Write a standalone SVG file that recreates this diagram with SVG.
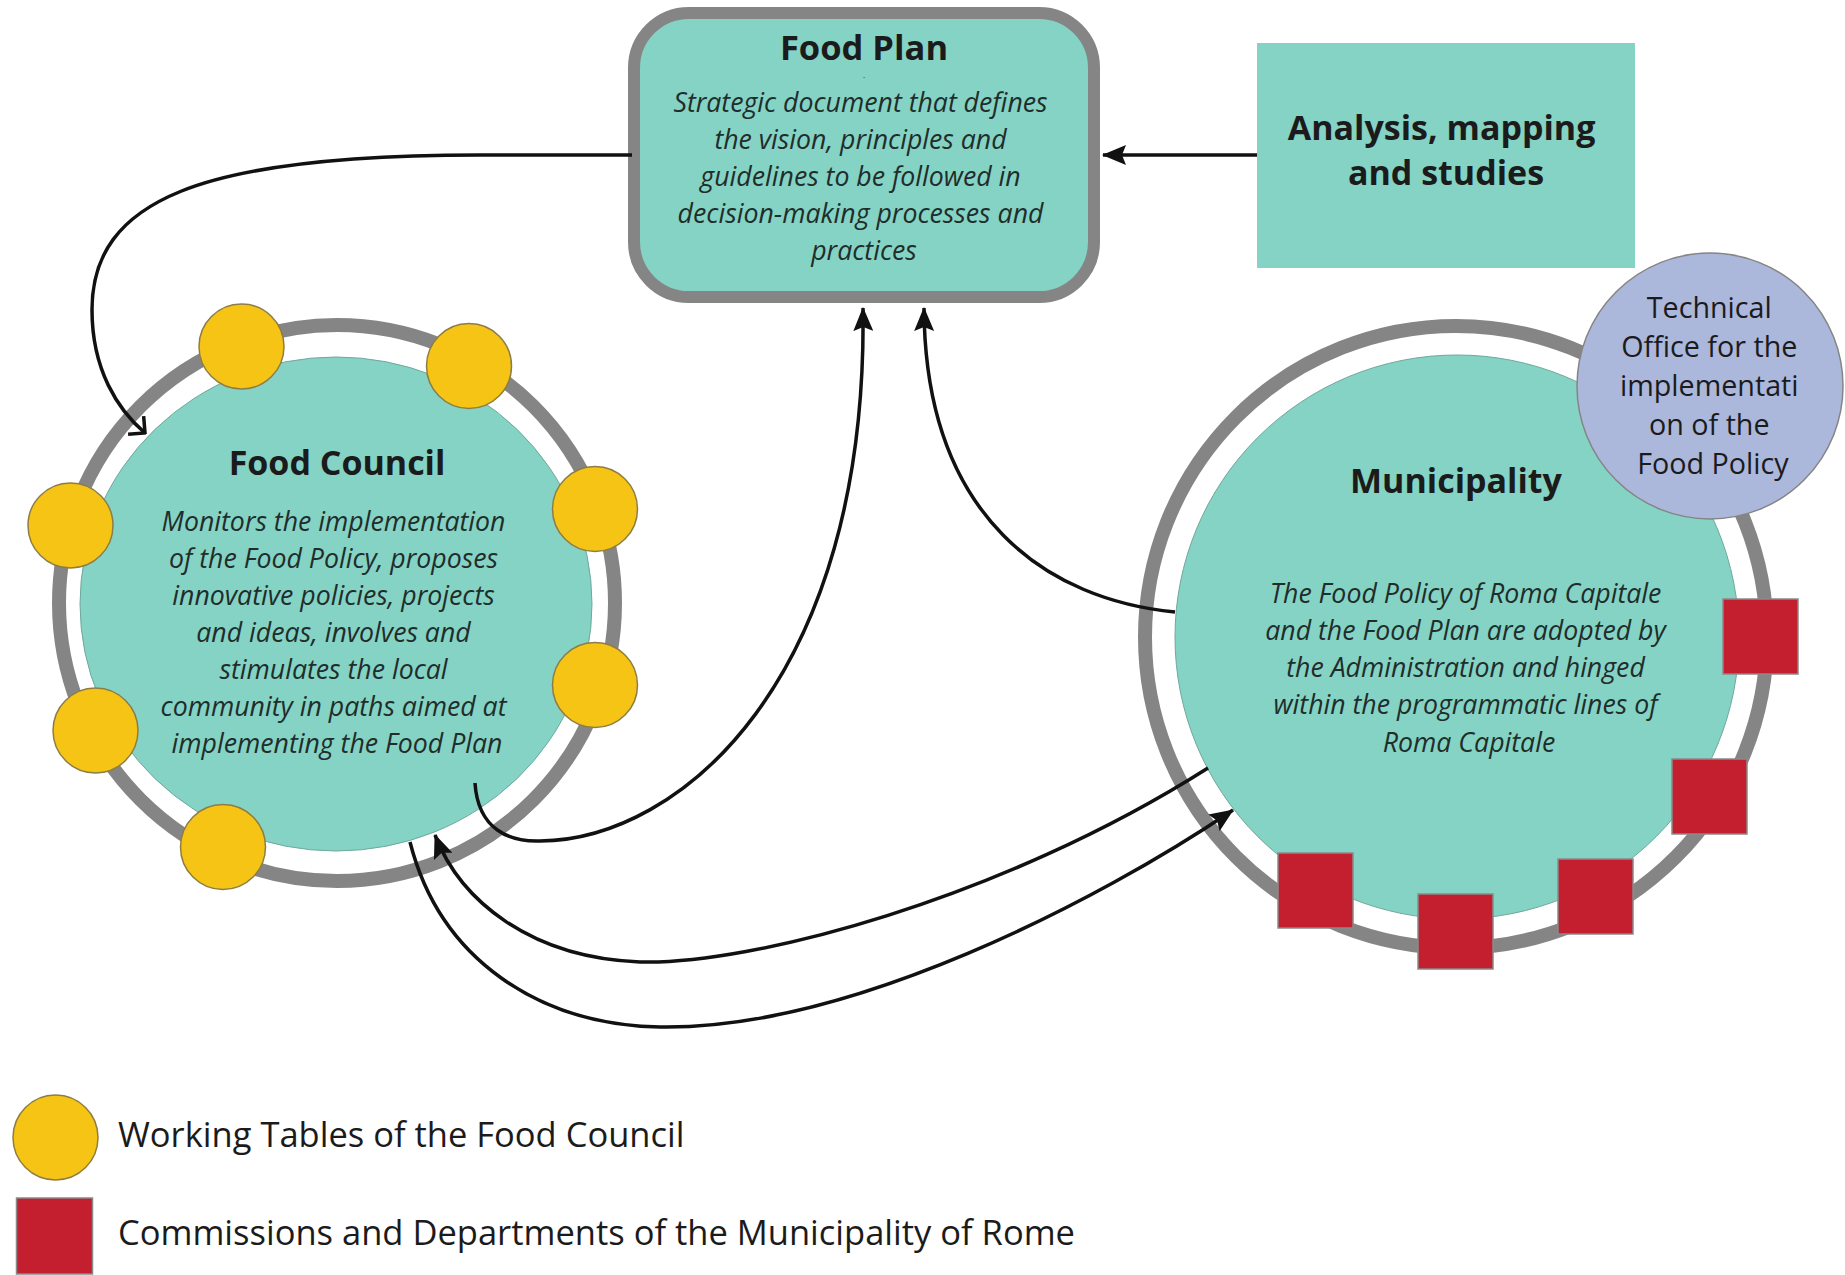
<svg xmlns="http://www.w3.org/2000/svg" width="1845" height="1275" viewBox="0 0 1845 1275">
<style>
.title{font-family:"Open Sans","Liberation Sans",sans-serif;font-weight:bold;fill:#1b1b1b;text-anchor:middle}
.body{font-family:"Open Sans","Liberation Sans",sans-serif;font-style:italic;fill:#1f2d2b;text-anchor:middle;font-size:26.7px}
.reg{font-family:"Open Sans","Liberation Sans",sans-serif;fill:#1b1b1b}
.teal{fill:#85d3c4}
.ring{fill:none;stroke:#858585;stroke-width:14}
.yel{fill:#f6c415;stroke:#8d7d45;stroke-width:1.5}
.red{fill:#c41f2e;stroke:#8a8a8a;stroke-width:1.5}
.conn{fill:none;stroke:#111;stroke-width:3.5}
</style>
<defs>
<marker id="tri" viewBox="0 0 24 20" refX="23" refY="10" markerWidth="24" markerHeight="20" markerUnits="userSpaceOnUse" orient="auto">
<path d="M0,0 L24,10 L0,20 L4,10 z" fill="#111"/>
</marker>
<marker id="chev" viewBox="-14 -14 16 28" refX="0" refY="0" markerWidth="16" markerHeight="28" markerUnits="userSpaceOnUse" orient="auto">
<path d="M-12,-12 L0,0 L-12,12" fill="none" stroke="#111" stroke-width="3.5"/>
</marker>
</defs>
<rect width="1845" height="1275" fill="#fff"/>

<g id="food-council">
<circle cx="337" cy="603" r="278" class="ring"/>
<ellipse cx="336" cy="604" rx="256" ry="247" class="teal" stroke="#6fa89c" stroke-width="1"/>
<text x="337" y="475" class="title" font-size="34">Food Council</text>
<text class="body">
<tspan x="337" y="531">Monitors the implementation</tspan>
<tspan x="337" y="568">of the Food Policy, proposes</tspan>
<tspan x="337" y="605">innovative policies, projects</tspan>
<tspan x="337" y="642">and ideas, involves and</tspan>
<tspan x="337" y="679">stimulates the local</tspan>
<tspan x="337" y="716">community in paths aimed at</tspan>
<tspan x="337" y="753">implementing the Food Plan</tspan>
</text>
</g>

<g id="working-tables">
<circle cx="241.5" cy="346.5" r="42.5" class="yel"/>
<circle cx="469" cy="366" r="42.5" class="yel"/>
<circle cx="595" cy="509" r="42.5" class="yel"/>
<circle cx="70.5" cy="525.5" r="42.5" class="yel"/>
<circle cx="595" cy="685" r="42.5" class="yel"/>
<circle cx="95.5" cy="730.5" r="42.5" class="yel"/>
<circle cx="223" cy="847" r="42.5" class="yel"/>
</g>

<g id="municipality">
<circle cx="1456" cy="637" r="311" class="ring"/>
<circle cx="1457" cy="637" r="282" class="teal" stroke="#6fa89c" stroke-width="1"/>
<text x="1456" y="493" class="title" font-size="34">Municipality</text>
<text class="body">
<tspan x="1469" y="603">The Food Policy of Roma Capitale</tspan>
<tspan x="1469" y="640">and the Food Plan are adopted by</tspan>
<tspan x="1469" y="677">the Administration and hinged</tspan>
<tspan x="1469" y="714">within the programmatic lines of</tspan>
<tspan x="1469" y="752">Roma Capitale</tspan>
</text>
</g>

<g id="commissions">
<rect x="1723" y="599" width="75" height="75" class="red"/>
<rect x="1672" y="759" width="75" height="75" class="red"/>
<rect x="1558" y="859" width="75" height="75" class="red"/>
<rect x="1418" y="894" width="75" height="75" class="red"/>
<rect x="1278" y="853" width="75" height="75" class="red"/>
</g>

<g id="technical-office">
<circle cx="1710" cy="386" r="133" fill="#abb7db" stroke="#858585" stroke-width="1.5"/>
<text class="reg" font-size="28.7" text-anchor="middle">
<tspan x="1713" y="318">Technical</tspan>
<tspan x="1713" y="357">Office for the</tspan>
<tspan x="1713" y="396">implementati</tspan>
<tspan x="1713" y="435">on of the</tspan>
<tspan x="1713" y="474">Food Policy</tspan>
</text>
</g>

<g id="food-plan">
<rect x="634" y="13" width="460" height="284" rx="55" ry="55" class="teal" stroke="#858585" stroke-width="12"/>
<text x="864" y="60" class="title" font-size="34.5">Food Plan</text>
<text x="864" y="78" class="reg" font-size="8" text-anchor="middle">.</text>
<text class="body">
<tspan x="864" y="112">Strategic document that defines</tspan>
<tspan x="864" y="149">the vision, principles and</tspan>
<tspan x="864" y="186">guidelines to be followed in</tspan>
<tspan x="864" y="223">decision-making processes and</tspan>
<tspan x="864" y="260">practices</tspan>
</text>
</g>

<g id="analysis">
<rect x="1257" y="43" width="378" height="225" class="teal"/>
<text class="title" font-size="34">
<tspan x="1446" y="140">Analysis, mapping</tspan>
<tspan x="1446" y="185">and studies</tspan>
</text>
</g>

<g id="connectors">
<path class="conn" d="M1257 155 L1103 155" marker-end="url(#tri)"/>
<path class="conn" d="M632 155 L480 155 C200 155 92 200 92 310 C92 370 118 410 145 433" marker-end="url(#chev)"/>
<path class="conn" d="M475 783 C478 830 510 842 540 841 C680 840 868 680 863 308" marker-end="url(#tri)"/>
<path class="conn" d="M1175 612 C1050 600 925 520 924 308" marker-end="url(#tri)"/>
<path class="conn" d="M1208 768 C1000 900 750 965 640 962 C530 958 460 900 435 835" marker-end="url(#tri)"/>
<path class="conn" d="M410 842 C440 960 540 1025 660 1027 C850 1030 1100 900 1233 810" marker-end="url(#tri)"/>
</g>

<g id="legend">
<circle cx="55.5" cy="1137.5" r="42.5" class="yel"/>
<text x="118" y="1147" class="reg" font-size="34.5">Working Tables of the Food Council</text>
<rect x="16.5" y="1198" width="76" height="76" class="red"/>
<text x="118" y="1245" class="reg" font-size="34.5">Commissions and Departments of the Municipality of Rome</text>
</g>
</svg>
